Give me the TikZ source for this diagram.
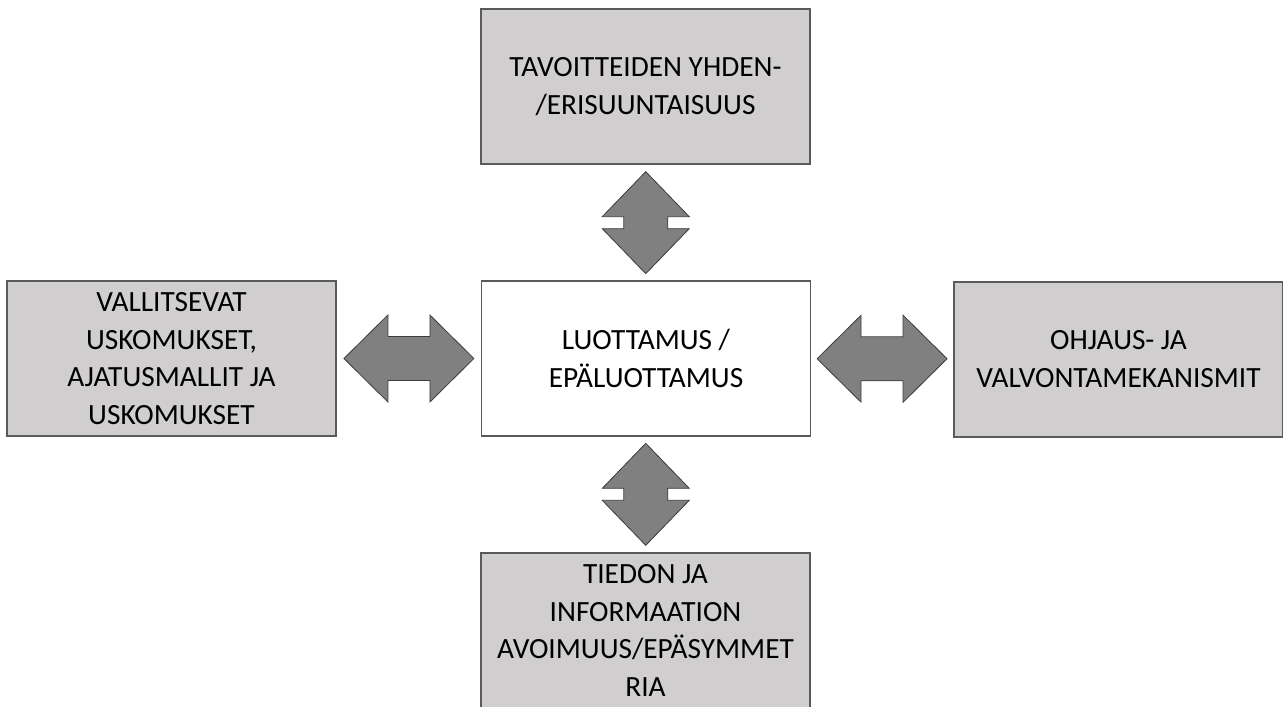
\documentclass[tikz,border=0pt]{standalone}
\usepackage{fontspec}
\setmainfont{Carlito}
\usetikzlibrary{calc}

\definecolor{boxgray}{RGB}{208,206,206}
\definecolor{boxline}{RGB}{90,90,90}
\definecolor{arrowgray}{RGB}{128,128,128}
\definecolor{arrowline}{RGB}{60,60,60}

\tikzset{
  factor/.style={draw=boxline, line width=1.5pt, fill=boxgray, inner sep=0pt,
    minimum width=246.75pt, minimum height=116.25pt, align=center,
    font=\fontsize{22}{28.3}\selectfont},
  core/.style={factor, fill=white, line width=1pt},
  blockarrow/.style={draw=arrowline, fill=arrowgray, line width=0.6pt}
}

% double block arrows, centred on a point
\newcommand{\hdblarrow}[1]{%
  \draw[blockarrow] ($(#1)+(-65,0)$) -- ++(44,-43.5) -- ++(0,21.5) -- ++(42,0)
    -- ++(0,-21.5) -- ++(44,43.5) -- ++(-44,43.5) -- ++(0,-21.5) -- ++(-42,0)
    -- ++(0,21.5) -- cycle;}
\newcommand{\vdblarrow}[1]{%
  \draw[blockarrow] ($(#1)+(0,-51)$) -- ++(43.5,45) -- ++(-21.5,0) -- ++(0,12)
    -- ++(21.5,0) -- ++(-43.5,45) -- ++(-43.5,-45) -- ++(21.5,0) -- ++(0,-12)
    -- ++(-21.5,0) -- cycle;}

\begin{document}
\begin{tikzpicture}[x=0.75pt,y=-0.75pt]
    \useasboundingbox (0,0) rectangle (1283,707);

    \node[core] (trust) at (646,358.5) {LUOTTAMUS /\\EPÄLUOTTAMUS};

    \node[factor] (goals) at (645.5,86.5) {TAVOITTEIDEN YHDEN-\\/ERISUUNTAISUUS};
    \node[factor] (beliefs) at (171.5,358.5) {VALLITSEVAT\\USKOMUKSET,\\AJATUSMALLIT JA\\USKOMUKSET};
    \node[factor] (control) at (1118.5,359) {OHJAUS- JA\\VALVONTAMEKANISMIT};
    \node[factor] (info) at (645.5,630.5) {TIEDON JA\\INFORMAATION\\AVOIMUUS/EPÄSYMMET\\RIA};

    \coordinate (gt) at ($(goals.south)!0.5!(trust.north)$);
    \coordinate (ti) at ($(trust.south)!0.5!(info.north)$);
    \coordinate (bt) at ($(beliefs.east)!0.5!(trust.west)$);
    \coordinate (tc) at ($(trust.east)!0.5!(control.west)$);

    \vdblarrow{gt}
    \vdblarrow{ti}
    \hdblarrow{bt}
    \hdblarrow{tc}
\end{tikzpicture}
\end{document}
